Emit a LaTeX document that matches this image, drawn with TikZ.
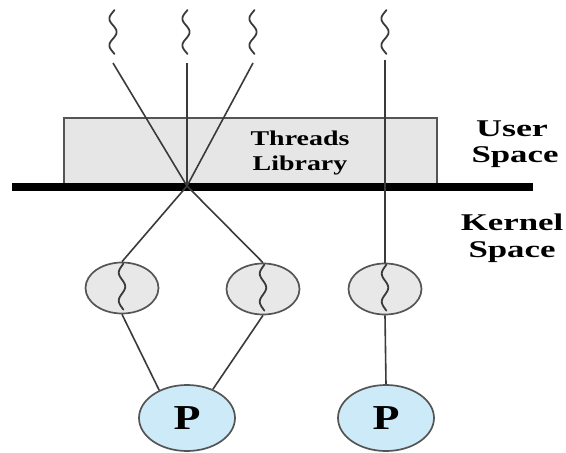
\documentclass[tikz,border=0pt]{standalone}
\usepackage{fontspec}
\setmainfont{Liberation Serif}
\usetikzlibrary{shapes.geometric}

\definecolor{linegray}{HTML}{3A3A3A}
\definecolor{edgegray}{HTML}{555555}
\definecolor{libfill}{HTML}{E6E6E6}
\definecolor{thrfill}{HTML}{E8E8E8}
\definecolor{procfill}{HTML}{CDEAF9}

\newcommand\widetext[2]{\scalebox{#1}[1]{#2}}

\tikzset{
  link/.style={draw=linegray, line width=1.6pt},
  % wavy thread glyph, drawn downward from the pic origin
  pics/wiggle/.style n args={3}{code={
    \draw[draw=linegray, line width=1.8pt, line cap=round]
      plot[smooth, domain=-25:565, samples=60] ({-#2*sin(\x)}, {#1/590*(\x+25)});
  }},
  kthread/.style={ellipse, draw=edgegray, line width=1.7pt, fill=thrfill,
    minimum width=73pt, minimum height=51pt, inner sep=0pt},
  proc/.style={ellipse, draw=edgegray, line width=1.7pt, fill=procfill,
    minimum width=96pt, minimum height=66pt, inner sep=0pt,
    font=\fontsize{35}{35}\selectfont\bfseries},
  libtext/.style={anchor=base, inner sep=0pt, font=\fontsize{21}{21}\selectfont\bfseries},
  sidetext/.style={anchor=base, inner sep=0pt, font=\fontsize{24}{24}\selectfont\bfseries}
}

\begin{document}
\begin{tikzpicture}[x=1pt, y=-1pt]
  \useasboundingbox (0,0) rectangle (566,453);

  % threads library box
  \path[fill=libfill, draw=edgegray, line width=1.3pt] (64,118) rectangle (437,187);
  \node[libtext] (thr) at (300,145) {\widetext{1.33}{Threads}};
  \node[libtext] (lib) at (300,170) {\widetext{1.33}{Library}};

  % user/kernel boundary
  \path[fill=black] (12,183) rectangle (533,191);

  \node[sidetext] (user)  at (512,136) {\widetext{1.5}{User}};
  \node[sidetext] (uspace) at (515,162) {\widetext{1.45}{Space}};
  \node[sidetext] (kern)  at (512,230) {\widetext{1.45}{Kernel}};
  \node[sidetext] (kspace) at (512,257) {\widetext{1.45}{Space}};

  % user-level threads
  \coordinate (s1) at (113,10);
  \coordinate (s2) at (186,10);
  \coordinate (s3) at (253,10);
  \coordinate (s4) at (385,10);
  \foreach \i in {1,2,3,4} \pic at (s\i) {wiggle={44}{3.6}{}};

  \coordinate (t1) at (113,63);
  \coordinate (t2) at (187,63);
  \coordinate (t3) at (253,63);
  \coordinate (t4) at (385,60);
  \coordinate (mux) at (187,186);

  % kernel threads
  \node[kthread] (k1) at (122,288) {};
  \node[kthread] (k2) at (263,289) {};
  \node[kthread] (k3) at (385,289) {};
  \foreach \k in {k1,k2,k3}
    \pic at ([yshift=-2pt]\k.north) {wiggle={46}{3.2}{}};

  % processors
  \node[proc] (p1) at (187,418) {\widetext{1.26}{P}};
  \node[proc] (p2) at (386,418) {\widetext{1.26}{P}};

  % connections
  \draw[link] (t1) -- (mux);
  \draw[link] (t2) -- (mux);
  \draw[link] (t3) -- (mux);
  \draw[link] (mux) -- (k1.north);
  \draw[link] (mux) -- (k2.north);
  \draw[link] (t4) -- (k3.north);
  \draw[link] (k1.south) -- (p1.135);
  \draw[link] (k2.south) -- (p1.48);
  \draw[link] (k3.south) -- (p2.north);
\end{tikzpicture}
\end{document}
